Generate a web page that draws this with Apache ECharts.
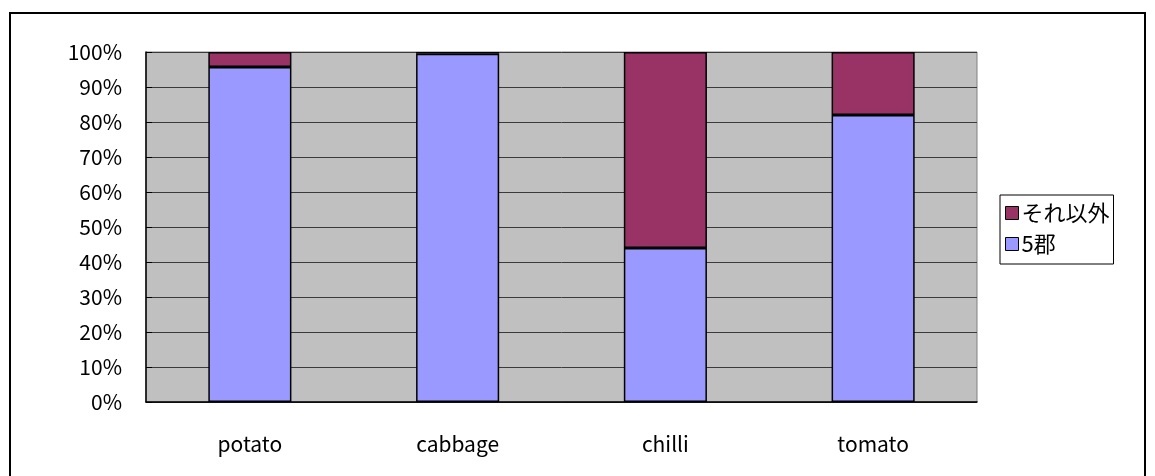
<!DOCTYPE html>
<html>
<head>
<meta charset="utf-8">
<script src="https://cdn.jsdelivr.net/npm/echarts@6/dist/echarts.min.js"></script>
<style>
  html, body { margin: 0; padding: 0; background: #fff; }
  #frame {
    position: absolute; left: 9px; top: 12px;
    width: 1137px; height: 470px;
    border: 2px solid #000; box-sizing: border-box; border-bottom: none;
  }
  #chart { position: absolute; left: 0; top: 0; width: 1155px; height: 476px; }
</style>
</head>
<body>
<div id="frame"></div>
<div id="chart"></div>
<script>
// data
const categories = ['potato', 'cabbage', 'chilli', 'tomato']
const gun5 = [95.7, 99.5, 44, 82]       // 5郡
const others = [4.3, 0.5, 56, 18]       // それ以外

const font = '"Noto Sans CJK JP", "Noto Sans", sans-serif'

const chart = echarts.init(document.getElementById('chart'), null, { renderer: 'canvas' })

chart.setOption({
  backgroundColor: 'transparent',
  animation: false,
  grid: {
    left: 146, top: 52, width: 831, height: 350,
    show: true, backgroundColor: '#C0C0C0', borderColor: '#808080', borderWidth: 1
  },
  legend: {
    orient: 'vertical',
    left: 1000, top: 195,
    data: ['それ以外', '5郡'],
    itemWidth: 13, itemHeight: 13, itemGap: 9,
    padding: [7, 4, 9, 5],
    borderColor: '#000', borderWidth: 1,
    icon: 'rect',
    itemStyle: { borderColor: '#000', borderWidth: 1 },
    textStyle: { fontFamily: font, fontSize: 22, color: '#000', padding: [0, 0, 0, -2] }
  },
  xAxis: {
    type: 'category',
    data: categories,
    axisLine: { lineStyle: { color: '#000', width: 1.5 } },
    axisTick: { inside: true, length: 10, lineStyle: { color: '#555' } },
    axisLabel: { color: '#000', fontFamily: font, fontSize: 21, margin: 32 }
  },
  yAxis: {
    type: 'value',
    min: 0, max: 100, interval: 10,
    axisLine: { show: true, lineStyle: { color: '#000', width: 1.5 } },
    axisTick: { show: true, inside: true, length: 6, lineStyle: { color: '#000' } },
    axisLabel: { formatter: '{value}%', color: '#000', fontFamily: font, fontSize: 21, margin: 24 },
    splitLine: { lineStyle: { color: '#3a3a3a', width: 1 } }
  },
  series: [
    {
      name: '5郡', type: 'bar', stack: 'all', data: gun5, barWidth: '40%',
      itemStyle: { color: '#9999FF', borderColor: '#000', borderWidth: 1.5 }
    },
    {
      name: 'それ以外', type: 'bar', stack: 'all', data: others, barWidth: '40%',
      itemStyle: { color: '#993366', borderColor: '#000', borderWidth: 1.5 }
    }
  ]
})
</script>
</body>
</html>
